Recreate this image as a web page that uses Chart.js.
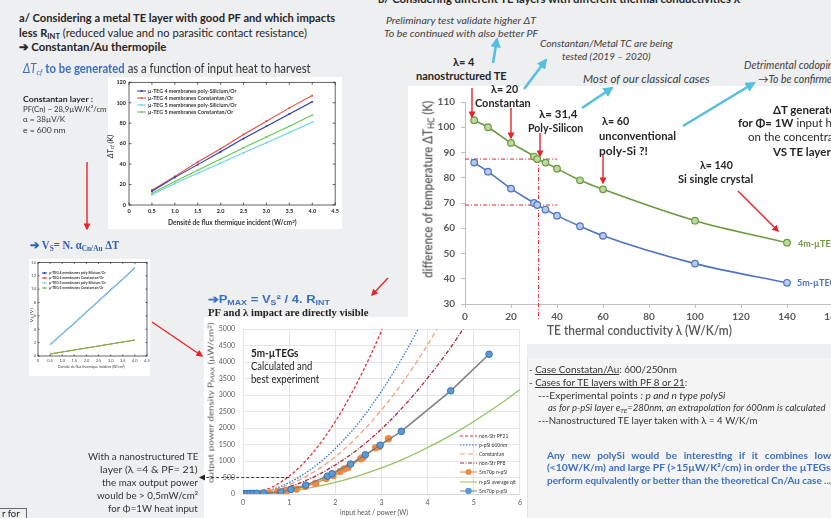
<!DOCTYPE html>
<html>
<head>
<meta charset="utf-8">
<script src="https://cdn.jsdelivr.net/npm/chart.js@4.4.1/dist/chart.umd.min.js"></script>
<style>
  body { margin: 0; width: 831px; height: 518px; overflow: hidden; background: #eeeff0; position: relative; font-family: Lato, "Open Sans", sans-serif; }
  .t { position: absolute; white-space: nowrap; line-height: 1; color: #262626; }
  .b { font-weight: bold; }
  .i { font-style: italic; }
  .gray { color: #404040; }
  .serif { font-family: "Liberation Serif", serif; }
  .sans { font-family: "Liberation Sans", sans-serif; }
  .blue { color: #3b6fc2; }
  sub { font-size: 0.68em; vertical-align: -0.25em; line-height: 0; }
  sup { font-size: 0.68em; vertical-align: 0.4em; line-height: 0; }
  .box { position: absolute; background: #fff; }
  canvas { position: absolute; }
  .legend { position: absolute; }
  .legend div { display: flex; align-items: center; white-space: nowrap; }
  svg.over { position: absolute; left: 0; top: 0; pointer-events: none; }
</style>
</head>
<body>

<!-- panels -->
<div class="box" style="left:527px;top:358px;width:304px;height:160px;background:#f4f4f4;border-left:1px solid #e2e2e2"></div>
<div class="box" style="left:408px;top:86px;width:423px;height:258px"></div>
<div class="box" style="left:204px;top:317px;width:323px;height:201px"></div>
<div class="box" style="left:108px;top:77px;width:234px;height:152px"></div>
<div class="box" style="left:29px;top:259px;width:121px;height:117px"></div>

<canvas id="dtChart" width="445" height="260" style="left:408px;top:87px"></canvas>
<canvas id="powerChart" width="331" height="201" style="left:196px;top:317px"></canvas>
<canvas id="fluxChart" width="234" height="150" style="left:108px;top:76px"></canvas>
<canvas id="vsChart" width="124" height="118" style="left:28px;top:258px"></canvas>

<!-- section a -->
<div class="t b" style="left:19px;top:12px;font-size:12px" data-w="316">a/ Considering a metal TE layer with good PF and which impacts</div>
<div class="t" style="left:19px;top:27px;font-size:12px" data-w="288"><b>less R<sub>INT</sub></b> (reduced value and no parasitic contact resistance)</div>
<div class="t b" style="left:19px;top:41px;font-size:12px" data-w="147">➔ Constantan/Au thermopile</div>
<div class="t" style="left:23px;top:63px;font-size:12.5px;color:#333" data-w="288"><span class="blue"><i>ΔT<sub>cf</sub></i> <b>to be generated</b></span> as a function of input heat to harvest</div>
<div class="t b" style="left:23px;top:95px;font-size:8px" data-w="70">Constantan layer :</div>
<div class="t" style="left:23px;top:106px;font-size:7.5px;color:#333" data-w="84">PF(Cn) ~ 28,9µW/K²/cm</div>
<div class="t" style="left:23px;top:116px;font-size:7.5px;color:#333" data-w="42">α = 38µV/K</div>
<div class="t" style="left:23px;top:127px;font-size:7.5px;color:#333" data-w="42">e = 600 nm</div>

<div class="t b" style="left:168px;top:220px;font-size:6.5px;color:#333" data-w="129">Densité de flux thermique incident (W/cm<sup>2</sup>)</div>
<div class="t i" id="dtcfTitle" style="left:111px;top:146px;font-size:7px;color:#222">ΔT<sub>cf</sub> (K)</div>

<div class="t b serif blue" style="left:30px;top:240px;font-size:11.5px;color:#2f5fb0" data-w="89">➔ V<sub>S</sub>= N. α<sub>Cn/Au</sub>  ΔT</div>
<div class="t" style="left:58px;top:365px;font-size:4.5px;color:#333" data-w="67">Densité de flux thermique incident (W/cm<sup>2</sup>)</div>
<div class="t" id="vsTitle" style="left:32px;top:315px;font-size:4.5px;color:#333">V<sub>S</sub> (V)</div>

<!-- section power -->
<div class="t b sans" style="left:208px;top:294px;font-size:11px;color:#3b6fc2" data-w="122">➔P<sub>MAX</sub>  = V<sub>S</sub>² / 4. R<sub>INT</sub></div>
<div class="t b serif" style="left:208px;top:308px;font-size:10.5px;color:#222" data-w="160">PF and λ impact are directly visible</div>
<div class="t b" style="left:251px;top:347px;font-size:11px;color:#222" data-w="47">5m-µTEGs</div>
<div class="t" style="left:251px;top:360px;font-size:11px;color:#222" data-w="61">Calculated and</div>
<div class="t" style="left:251px;top:373px;font-size:11px;color:#222" data-w="68">best experiment</div>
<div class="t" id="powerTitle" style="left:211px;top:403px;font-size:7.5px;color:#555">output power density P<sub>MAX</sub> (µW/cm<sup>2</sup>)</div>
<div class="t" style="left:340px;top:509px;font-size:7px;color:#555" data-w="68">input heat / power (W)</div>

<div class="t" style="right:633px;top:452px;font-size:9.5px;color:#333" data-w="110" data-r="1">With a nanostructured TE</div>
<div class="t" style="right:633px;top:465px;font-size:9.5px;color:#333" data-w="98" data-r="1">layer (λ =4 &amp; PF= 21)</div>
<div class="t" style="right:633px;top:478px;font-size:9.5px;color:#333" data-w="96" data-r="1">the max output power</div>
<div class="t" style="right:633px;top:491px;font-size:9.5px;color:#333" data-w="101" data-r="1">would be &gt; 0,5mW/cm²</div>
<div class="t" style="right:633px;top:504px;font-size:9.5px;color:#333" data-w="90" data-r="1">for Φ=1W heat input</div>
<div class="t" style="left:-1px;top:508px;width:24px;height:14px;border:1px solid #666;font-size:9.5px;padding-left:2px;color:#222">r for</div>

<!-- section b -->
<div class="t b" style="left:378px;top:-7px;font-size:11.5px" data-w="362">b/ Considering different TE layers with different thermal conductivities λ</div>
<div class="t i gray" style="left:386px;top:15px;font-size:10px" data-w="150">Preliminary test validate higher ΔT</div>
<div class="t i gray" style="left:384px;top:28px;font-size:10px" data-w="154">To be continued with also better PF</div>
<div class="t i gray" style="left:540px;top:39px;font-size:9.5px" data-w="133">Constantan/Metal TC are being</div>
<div class="t i gray" style="left:562px;top:52px;font-size:9.5px" data-w="89">tested (2019 – 2020)</div>
<div class="t i gray" style="left:583px;top:73px;font-size:11px" data-w="127">Most of our classical cases</div>
<div class="t i gray" style="left:744px;top:60px;font-size:10.5px">Detrimental codoping</div>
<div class="t i gray" style="left:758px;top:74px;font-size:10.5px">→To be confirmed</div>

<div class="t b" style="left:453px;top:56px;font-size:11.5px" data-w="21">λ= 4</div>
<div class="t b" style="left:416px;top:70px;font-size:11.5px" data-w="91">nanostructured TE</div>
<div class="t b" style="left:491px;top:83px;font-size:11.5px" data-w="27">λ= 20</div>
<div class="t b" style="left:475px;top:97px;font-size:11.5px" data-w="56">Constantan</div>
<div class="t b" style="left:539px;top:108px;font-size:11.5px" data-w="38">λ= 31,4</div>
<div class="t b" style="left:528px;top:122px;font-size:11.5px" data-w="55">Poly-Silicon</div>
<div class="t b" style="left:602px;top:115px;font-size:11.5px" data-w="27">λ= 60</div>
<div class="t b" style="left:599px;top:130px;font-size:11.5px" data-w="77">unconventional</div>
<div class="t b" style="left:599px;top:145px;font-size:11.5px" data-w="49">poly-Si  ?!</div>
<div class="t b" style="left:700px;top:159px;font-size:11.5px" data-w="33">λ= 140</div>
<div class="t b" style="left:678px;top:173px;font-size:11.5px" data-w="75">Si single crystal</div>
<div class="t b" style="left:773px;top:104px;font-size:11.5px">ΔT generated</div>
<div class="t" style="left:738px;top:117px;font-size:11.5px"><b>for Φ= 1W</b> input heat</div>
<div class="t" style="left:748px;top:131px;font-size:11.5px">on the concentrator</div>
<div class="t b" style="left:773px;top:146px;font-size:11.5px">VS  TE layer λ</div>

<div class="t" id="dtYTitle" style="left:428px;top:189px;font-size:12.5px;color:#595959;font-weight:600">difference of temperature ΔT<sub>HC</sub> (K)</div>
<div class="t" style="left:547px;top:325px;font-size:12.5px;color:#595959;font-weight:600" data-w="185">TE thermal conductivity λ (W/K/m)</div>
<div class="t b" style="left:798px;top:239px;font-size:9px;color:#6b9a3e">4m-µTEG</div>
<div class="t b" style="left:797px;top:278px;font-size:9px;color:#4a6fbf">5m-µTEG</div>

<!-- notes -->
<div class="t" style="left:529px;top:365px;font-size:9.5px;color:#333" data-w="148">- <u>Case Constatan/Au</u>:  600/250nm</div>
<div class="t" style="left:529px;top:378px;font-size:9.5px;color:#333" data-w="158">- <u>Cases for TE layers with PF 8 or 21</u>:</div>
<div class="t" style="left:538px;top:391px;font-size:9.5px;color:#333" data-w="187">---Experimental points <i>: p and n type polySi</i></div>
<div class="t i" style="left:548px;top:403px;font-size:9.5px;color:#333">as for p-pSi  layer e<sub>TE</sub>=280nm, an extrapolation for 600nm is calculated</div>
<div class="t" style="left:538px;top:416px;font-size:9.5px;color:#333" data-w="220">---Nanostructured TE layer taken with λ = 4 W/K/m</div>
<div class="t b blue" style="left:547px;top:451px;font-size:9.5px;word-spacing:4px" data-w="284">Any new polySi would be interesting if it combines low</div>
<div class="t b blue" style="left:547px;top:463px;font-size:9.5px" data-w="284">(&lt;10W/K/m) and large PF (&gt;15µW/K²/cm) in order the µTEGs</div>
<div class="t b blue" style="left:547px;top:476px;font-size:9.5px" data-w="284">perform equivalently or better than the theoretical Cn/Au case ...</div>

<div class="legend" id="fluxLegend" style="left:137px;top:87px"></div>
<div class="legend" id="vsLegend" style="left:42px;top:270px"></div>
<div class="legend" id="powerLegend" style="left:460px;top:431px"></div>

<svg class="over" width="831" height="518">
  <defs>
    <marker id="hr" viewBox="0 0 10 10" refX="8" refY="5" markerWidth="5" markerHeight="5" orient="auto"><path d="M0,0 L10,5 L0,10 z" fill="#e8232b"/></marker>
    <marker id="hc" viewBox="0 0 10 10" refX="8" refY="5" markerWidth="4" markerHeight="4" orient="auto"><path d="M0,0 L10,5 L0,10 z" fill="#56c0dc"/></marker>
  </defs>
  <g stroke="#e8232b" stroke-width="1.4" marker-end="url(#hr)" fill="none">
    <line x1="87" y1="162" x2="87" y2="229"/>
    <line x1="152" y1="322" x2="202" y2="356"/>
    <line x1="388" y1="278" x2="372" y2="295"/>
    <line x1="472" y1="88" x2="472" y2="117"/>
    <line x1="511" y1="108" x2="511" y2="138"/>
    <line x1="540" y1="133" x2="540" y2="156"/>
    <line x1="603" y1="155" x2="603" y2="183"/>
    <line x1="738" y1="191" x2="778" y2="231"/>
  </g>
  <g stroke="#56c0dc" stroke-width="2.6" marker-end="url(#hc)" fill="none">
    <line x1="493" y1="63" x2="497" y2="39"/>
    <line x1="524" y1="89" x2="546" y2="60"/>
    <line x1="582" y1="108" x2="612" y2="88"/>
    <line x1="683" y1="126" x2="754" y2="83"/>
  </g>
</svg>

<script>
// ---- b/ temperature difference vs TE thermal conductivity ----
const thermalConductivity = [4, 10, 20, 30, 31.4, 35, 40, 50, 60, 100, 140];
const deltaT4m = [102.8, 100, 93.8, 88.4, 87.4, 86, 83.6, 79, 75.4, 63, 54.3];
const deltaT5m = [86, 82.4, 75.7, 70, 69.2, 67.4, 65, 60.8, 57, 46, 38.4];

// ---- PMAX vs input heat (5m-µTEGs) ----
const heatGrid = [0, 0.5, 1, 1.5, 2, 2.5, 3, 3.5, 4, 4.5, 5, 5.5, 6];
const pNanoPF21 = [0, 130, 540, 1230, 2200, 3450, 4950, 6700];
const pPpSi600 = [0, 85, 345, 780, 1380, 2150, 3120, 4250, 5550];
const pConstantan = [0, 70, 285, 640, 1130, 1770, 2550, 3470, 4530, 5720];
const pNanoPF8 = [0, 55, 220, 495, 880, 1370, 1970, 2690, 3520, 4450, 5500];
const pNpSiAverage = [0, 22, 88, 198, 350, 550, 790, 1075, 1410, 1780, 2200, 2660, 3170];
const nSiHeat = [0, 0.1, 0.25, 0.4, 0.57, 0.75, 0.95, 1.16, 1.35, 1.57, 1.8, 1.95, 2.1, 2.19, 2.27, 2.55, 2.6, 2.87, 2.95, 3.15];
const nSiPower = [0, 5, 10, 18, 30, 60, 100, 150, 230, 320, 470, 560, 680, 760, 800, 1070, 1110, 1400, 1440, 1680];
const pSiHeat = [0.02, 0.08, 0.15, 0.22, 0.3, 0.45, 0.82, 1.04, 1.36, 1.83, 1.93, 2.33, 2.65, 2.97, 3.43, 4.5, 5.33];
const pSiPower = [10, 15, 18, 20, 22, 30, 60, 140, 270, 540, 615, 910, 1190, 1480, 1900, 3130, 4240];
const powerLabels = ['non-Str PF21', 'p-pSi 600nm', 'Constantan', 'non-Str PF8', '5m70p  n-pSi', 'n-pSi average qit', '5m70p  p-pSi'];

// ---- a/ ΔTcf and VS vs heat flux density ----
const fluxDensity = [0.5, 1, 1.5, 2, 2.5, 3, 3.5, 4];
const dtPoly4 = [13.5, 27, 39.5, 52, 65, 77, 89, 101];
const dtConst4 = [14.5, 28, 42, 55, 69, 82, 95, 107];
const dtPoly5 = [10, 21, 31, 41, 51, 61, 71, 81];
const dtConst5 = [11.5, 23, 34, 45, 56, 66.5, 77, 88];
const vsPoly4 = [1.7, 3.3, 4.9, 6.6, 8.2, 9.9, 11.5, 13.2];
const vsConst4 = [0.3, 0.6, 0.9, 1.2, 1.5, 1.8, 2.1, 2.4];
const vsPoly5 = [1.7, 3.3, 4.9, 6.6, 8.2, 9.9, 11.5, 13.2];
const vsConst5 = [0.3, 0.6, 0.9, 1.2, 1.5, 1.8, 2.1, 2.4];
const temegLabels = ['µ-TEG 4 membranes poly-Silicium/Or', 'µ-TEG 4 membranes Constantan/Or', 'µ-TEG 5 membranes poly-Silicium/Or', 'µ-TEG 5 membranes Constantan/Or'];

function toPoints(xs, ys) {
  return ys.map((y, i) => ({ x: xs[i], y: y }));
}

Chart.defaults.font.family = 'Lato';
Chart.defaults.animation = false;
Chart.defaults.plugins.legend.display = false;
Chart.defaults.plugins.tooltip.enabled = false;

// red dashed reading lines on the ΔT chart
const guidesPlugin = {
  id: 'guides',
  beforeDatasetsDraw(chart, args, opts) {
    const { ctx, scales: { x, y } } = chart;
    ctx.save();
    ctx.strokeStyle = '#e8232b';
    ctx.lineWidth = 1;
    ctx.setLineDash([4, 2, 1, 2]);
    ctx.beginPath();
    opts.levels.forEach(v => {
      ctx.moveTo(x.getPixelForValue(0), y.getPixelForValue(v));
      ctx.lineTo(x.getPixelForValue(opts.until), y.getPixelForValue(v));
    });
    const px = x.getPixelForValue(opts.at);
    ctx.moveTo(px, y.getPixelForValue(opts.levels[0]));
    ctx.lineTo(px, y.bottom + 16);
    ctx.stroke();
    ctx.restore();
  }
};

new Chart(document.getElementById('dtChart'), {
  type: 'line',
  data: {
    datasets: [
      {
        label: '4m-µTEG', data: toPoints(thermalConductivity, deltaT4m),
        borderColor: '#6b9a3e', pointBackgroundColor: '#bcd9a0', pointBorderColor: '#6b9a3e',
        pointRadius: 3.3, pointBorderWidth: 1.2, borderWidth: 1.6, cubicInterpolationMode: 'monotone'
      },
      {
        label: '5m-µTEG', data: toPoints(thermalConductivity, deltaT5m),
        borderColor: '#4f73c4', pointBackgroundColor: '#b9c9ea', pointBorderColor: '#4f73c4',
        pointRadius: 3.3, pointBorderWidth: 1.2, borderWidth: 1.6, cubicInterpolationMode: 'monotone'
      }
    ]
  },
  options: {
    responsive: false,
    layout: { padding: { top: 15, right: 20, left: 0, bottom: 0 } },
    plugins: { guides: { levels: [deltaT4m[4], deltaT5m[4]], at: 32, until: 40 } },
    scales: {
      x: {
        type: 'linear', min: 0, max: 160,
        ticks: { stepSize: 20, padding: 3, color: '#595959', font: { size: 10, weight: 'bold' } },
        grid: { drawOnChartArea: false, tickLength: 4, color: '#bfbfbf' },
        border: { color: '#bfbfbf' },
        afterFit: s => { s.height = 43; }
      },
      y: {
        min: 30, max: 110,
        ticks: { stepSize: 10, padding: 6, color: '#595959', font: { size: 10, weight: 'bold' } },
        grid: { drawOnChartArea: false, tickLength: 4, color: '#bfbfbf' },
        border: { color: '#bfbfbf' },
        afterFit: s => { s.width = 57; }
      }
    }
  },
  plugins: [guidesPlugin]
});

// dashed arrow from the 1 W / 500 µW/cm² reading to the side note
const readingPlugin = {
  id: 'reading',
  afterDatasetsDraw(chart, args, opts) {
    const { ctx, scales: { x, y } } = chart;
    const px = x.getPixelForValue(opts.x), py = y.getPixelForValue(opts.y);
    ctx.save();
    ctx.strokeStyle = '#222';
    ctx.fillStyle = '#222';
    ctx.lineWidth = 0.9;
    ctx.setLineDash([3, 2]);
    ctx.beginPath();
    ctx.moveTo(px, py);
    ctx.lineTo(8, py);
    ctx.stroke();
    ctx.setLineDash([]);
    ctx.beginPath();
    ctx.moveTo(3, py);
    ctx.lineTo(9, py - 3);
    ctx.lineTo(9, py + 3);
    ctx.closePath();
    ctx.fill();
    ctx.restore();
  }
};

const curve = (label, ys, color, dash) => ({
  label, data: toPoints(heatGrid, ys), borderColor: color, borderDash: dash,
  borderWidth: 1.3, pointRadius: 0, cubicInterpolationMode: 'monotone', order: 2
});

const powerChart = new Chart(document.getElementById('powerChart'), {
  type: 'line',
  data: {
    datasets: [
      curve(powerLabels[0], pNanoPF21, '#e2303e', [3, 2]),
      curve(powerLabels[1], pPpSi600, '#2f78d4', [1.5, 1.5]),
      curve(powerLabels[2], pConstantan, '#f2a07c', [5, 3]),
      curve(powerLabels[3], pNanoPF8, '#a8283c', [4, 1.5, 1, 1.5]),
      {
        label: powerLabels[4], data: toPoints(nSiHeat, nSiPower), borderColor: '#ed7d31', borderWidth: 1.3,
        pointRadius: 3, pointBackgroundColor: '#f0893e', pointBorderColor: '#f0893e', order: 1
      },
      curve(powerLabels[5], pNpSiAverage, '#92c560', []),
      {
        label: powerLabels[6], data: toPoints(pSiHeat, pSiPower), borderColor: '#7f7f7f', borderWidth: 1.5,
        pointRadius: 3.3, pointBackgroundColor: '#5b9bd5', pointBorderColor: '#3572b0', pointBorderWidth: 1, order: 0
      }
    ]
  },
  options: {
    responsive: false,
    layout: { padding: { top: 7, right: 5, left: 0, bottom: 0 } },
    plugins: { reading: { x: 1, y: 500 } },
    scales: {
      x: {
        type: 'linear', min: 0, max: 6,
        ticks: { stepSize: 1, padding: 5, color: '#595959', font: { size: 7 } },
        grid: { color: '#e4e4e4', drawTicks: false },
        border: { color: '#d9d9d9' },
        afterFit: s => { s.height = 24; }
      },
      y: {
        min: 0, max: 5000,
        ticks: { stepSize: 500, padding: 8, color: '#595959', font: { size: 7 }, format: { useGrouping: false } },
        grid: { color: '#e4e4e4', drawTicks: false },
        border: { display: false },
        afterFit: s => { s.width = 47; }
      }
    }
  },
  plugins: [readingPlugin]
});

// MATLAB style box with inward ticks
const framePlugin = {
  id: 'frame',
  afterDraw(chart) {
    const { ctx, chartArea: a, scales: { x, y } } = chart;
    const len = chart.width > 200 ? 2.5 : 1.5;
    ctx.save();
    ctx.strokeStyle = '#222';
    ctx.lineWidth = 0.7;
    ctx.strokeRect(a.left, a.top, a.width, a.height);
    ctx.beginPath();
    x.ticks.forEach(t => {
      const p = x.getPixelForValue(t.value);
      ctx.moveTo(p, a.bottom); ctx.lineTo(p, a.bottom - len);
      ctx.moveTo(p, a.top); ctx.lineTo(p, a.top + len);
    });
    y.ticks.forEach(t => {
      const p = y.getPixelForValue(t.value);
      ctx.moveTo(a.left, p); ctx.lineTo(a.left + len, p);
      ctx.moveTo(a.right, p); ctx.lineTo(a.right - len, p);
    });
    ctx.stroke();
    ctx.restore();
  }
};

// 4-membrane lines sit under the 5-membrane ones
const fluxLine = (label, ys, color, radius, order) => ({
  label, data: toPoints(fluxDensity, ys), borderColor: color, backgroundColor: color,
  borderWidth: 1.1, pointRadius: radius, pointStyle: 'rect', pointBorderWidth: 0, order
});

const fluxChart = new Chart(document.getElementById('fluxChart'), {
  type: 'line',
  data: {
    datasets: [
      fluxLine(temegLabels[0], dtPoly4, '#2434c0', 1.2, 0),
      fluxLine(temegLabels[1], dtConst4, '#ea4a3c', 1.2, 0),
      fluxLine(temegLabels[2], dtPoly5, '#66d2ee', 1.2, 1),
      fluxLine(temegLabels[3], dtConst5, '#63c94a', 1.2, 1)
    ]
  },
  options: {
    responsive: false,
    layout: { padding: { top: 4, right: 5, left: 0, bottom: 0 } },
    scales: {
      x: {
        type: 'linear', min: 0, max: 4.5,
        ticks: { stepSize: 0.5, padding: 3, color: '#222', font: { size: 5.5, weight: 'bold' } },
        grid: { display: false, drawTicks: false }, border: { display: false },
        afterFit: s => { s.height = 21; }
      },
      y: {
        min: 0, max: 120,
        ticks: { stepSize: 20, padding: 3, color: '#222', font: { size: 5.5, weight: 'bold' } },
        grid: { display: false, drawTicks: false }, border: { display: false },
        afterFit: s => { s.width = 21; }
      }
    }
  },
  plugins: [framePlugin]
});

const vsChart = new Chart(document.getElementById('vsChart'), {
  type: 'line',
  data: {
    datasets: [
      fluxLine(temegLabels[0], vsPoly4, '#2434c0', 0, 1),
      fluxLine(temegLabels[1], vsConst4, '#ea4a3c', 0, 1),
      fluxLine(temegLabels[2], vsPoly5, '#8ad6ea', 0, 0),
      fluxLine(temegLabels[3], vsConst5, '#63c94a', 0, 0)
    ]
  },
  options: {
    responsive: false,
    layout: { padding: { top: 4, right: 5, left: 0, bottom: 0 } },
    scales: {
      x: {
        type: 'linear', min: 0, max: 4.5,
        ticks: { stepSize: 0.5, padding: 2, color: '#444', font: { size: 4 } },
        grid: { display: false, drawTicks: false }, border: { display: false },
        afterFit: s => { s.height = 20; }
      },
      y: {
        min: 0, max: 14,
        ticks: { stepSize: 2, padding: 2, color: '#444', font: { size: 4 } },
        grid: { display: false, drawTicks: false }, border: { display: false },
        afterFit: s => { s.width = 10; }
      }
    }
  },
  plugins: [framePlugin]
});

// HTML legends built from the chart datasets
function buildLegend(chart, id, lineW, rowH, fontSize, bold) {
  const box = document.getElementById(id);
  chart.data.datasets.forEach(ds => {
    const row = document.createElement('div');
    row.style.height = rowH + 'px';
    row.style.fontSize = fontSize + 'px';
    row.style.fontWeight = bold ? 'bold' : 'normal';
    row.style.color = '#333';
    const dash = (ds.borderDash || []).join(',');
    const r = ds.pointRadius || 0;
    const h = 6;
    let mark = '';
    if (r > 0 || bold) {
      const rr = r > 1.5 ? r : 1;
      mark = `<circle cx="${lineW / 2}" cy="${h / 2}" r="${rr}" fill="${ds.pointBackgroundColor || ds.borderColor}"/>`;
    }
    row.innerHTML = `<svg width="${lineW}" height="${h}" style="margin-right:2px"><line x1="0" y1="${h / 2}" x2="${lineW}" y2="${h / 2}" stroke="${ds.borderColor}" stroke-width="1" stroke-dasharray="${dash}"/>${mark}</svg>${ds.label}`;
    box.appendChild(row);
  });
}
buildLegend(powerChart, 'powerLegend', 17, 9.2, 5, false);
buildLegend(fluxChart, 'fluxLegend', 9, 7, 5.3, true);
buildLegend(vsChart, 'vsLegend', 5, 5.2, 3.4, true);

// fit text lines to the widths measured on the slide
document.querySelectorAll('[data-w]').forEach(el => {
  const target = +el.dataset.w;
  if (!target) return;
  const w = el.offsetWidth;
  el.style.transformOrigin = el.dataset.r ? 'right center' : 'left center';
  el.style.transform = `scaleX(${target / w})`;
});

// rotated axis titles, centred on their positions
[['dtYTitle', 177], ['powerTitle', 160], ['dtcfTitle', 24], ['vsTitle', 14]].forEach(([id, len]) => {
  const el = document.getElementById(id);
  const k = len / el.offsetWidth;
  el.style.transformOrigin = 'center center';
  el.style.left = (parseFloat(el.style.left) - el.offsetWidth / 2) + 'px';
  el.style.top = (parseFloat(el.style.top) - el.offsetHeight / 2) + 'px';
  el.style.transform = `rotate(-90deg) scaleX(${k})`;
});
</script>
</body>
</html>
